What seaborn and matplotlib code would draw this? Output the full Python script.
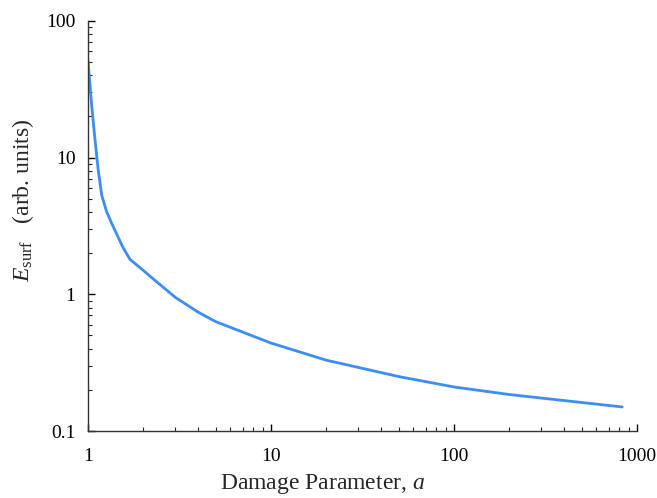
import numpy as np
import matplotlib.pyplot as plt
import seaborn as sns

# values (log-log)
damage_a = [1.0, 1.047, 1.092, 1.138, 1.188, 1.265, 1.347, 1.464, 1.553, 1.696, 2.0, 2.265,
            3.0, 4.0, 5.0, 10.0, 20.0, 50.0, 100.0, 200.0, 400.0, 830.0]
e_surf = [51.0, 24.0, 13.5, 8.0, 5.3, 4.0, 3.3, 2.6, 2.2, 1.8, 1.5, 1.3,
          0.95, 0.74, 0.63, 0.44, 0.33, 0.25, 0.21, 0.185, 0.167, 0.150]
x_ticks = [1, 10, 100, 1000]
x_ticklabels = ["1", "10", "100", "1000"]
y_ticks = [0.1, 1, 10, 100]
y_ticklabels = ["0.1", "1", "10", "100"]

sns.set_style("ticks")
plt.rcParams['font.family'] = ['Liberation Serif', 'DejaVu Serif']
plt.rcParams['mathtext.fontset'] = 'custom'
plt.rcParams['mathtext.rm'] = 'Liberation Serif'
plt.rcParams['mathtext.it'] = 'Liberation Serif:italic'


def main():
    fig = plt.figure(figsize=(6.57, 4.98), dpi=100)
    ax = fig.add_axes([0.134, 0.1345, 0.8356, 0.8235])

    sns.lineplot(x=damage_a, y=e_surf, ax=ax, color='#3a8ef5', linewidth=2.0)

    ax.set_xscale('log')
    ax.set_yscale('log')
    ax.set_xlim(1, 1000)
    ax.set_ylim(0.1, 100)
    ax.set_xticks(x_ticks)
    ax.set_xticklabels(x_ticklabels)
    ax.set_yticks(y_ticks)
    ax.set_yticklabels(y_ticklabels)

    sns.despine(ax=ax)
    for s in ['left', 'bottom']:
        ax.spines[s].set_linewidth(1.0)
        ax.spines[s].set_color('#333333')

    ax.tick_params(which='major', direction='in', length=5, width=1.0, labelsize=14, pad=9, colors='black')
    ax.tick_params(which='minor', direction='in', length=3, width=0.8)
    ax.tick_params(axis='x', which='major', pad=12)

    ax.set_xlabel('Damage Parameter, $a$', fontsize=17)
    ax.set_ylabel('$E_{\\mathrm{surf}}$   (arb. units)', fontsize=17)
    ax.xaxis.set_label_coords(0.428, -0.1)
    ax.yaxis.set_label_coords(-0.095, 0.563)

    fig.savefig('out.png', dpi=100)


if __name__ == '__main__':
    main()
